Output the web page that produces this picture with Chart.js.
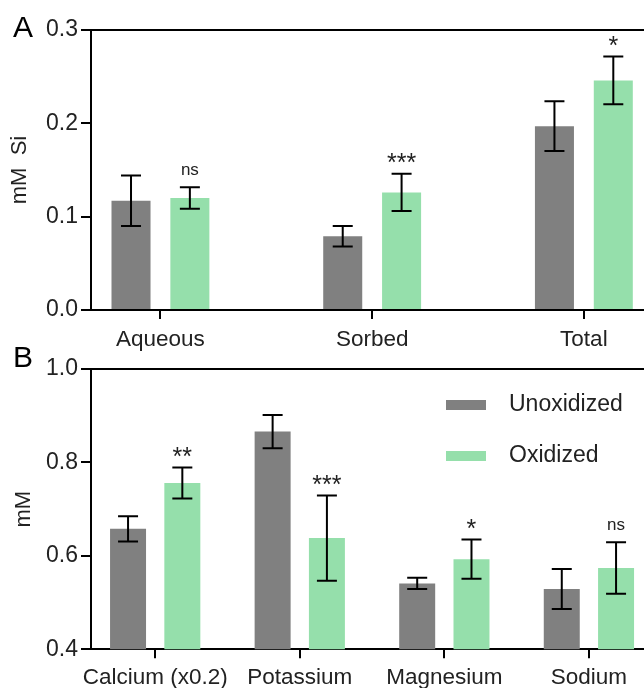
<!DOCTYPE html>
<html>
<head>
<meta charset="utf-8">
<script src="https://cdn.jsdelivr.net/npm/chart.js@4/dist/chart.umd.min.js"></script>
<style>
    html, body { margin: 0; padding: 0; background: #fff; overflow: hidden; }
    body { position: relative; width: 644px; height: 688px; }
    canvas { display: block; position: absolute; left: 0; }
    #grafA { top: 0; }
    #grafB { top: 342px; }
</style>
</head>
<body>
<canvas id="grafA" width="644" height="362"></canvas>
<canvas id="grafB" width="644" height="346"></canvas>
<script>
// Panel A: silicio
const siCategorias = ["Aqueous", "Sorbed", "Total"];
const siUnox = [0.117, 0.079, 0.197];
const siUnoxErr = [0.027, 0.011, 0.0266];
const siOx = [0.120, 0.126, 0.246];
const siOxErr = [0.0116, 0.020, 0.0256];
const siSignif = ["ns", "***", "*"];
const siTicks = [0.0, 0.1, 0.2, 0.3];

// Panel B: cationes
const ionCategorias = ["Calcium (x0.2)", "Potassium", "Magnesium", "Sodium"];
const ionUnox = [0.658, 0.866, 0.541, 0.529];
const ionUnoxErr = [0.027, 0.0355, 0.012, 0.043];
const ionOx = [0.756, 0.638, 0.593, 0.574];
const ionOxErr = [0.033, 0.091, 0.042, 0.055];
const ionSignif = ["**", "***", "*", "ns"];
const ionTicks = [0.4, 0.6, 0.8, 1.0];

const series = ["Unoxidized", "Oxidized"];
const GRIS = "#808080";
const VERDE = "#95dfab";
const FUENTE = "'Liberation Sans', Arial, sans-serif";
const TEXTO = "#222";

Chart.defaults.font.family = FUENTE;
Chart.defaults.color = TEXTO;

const barrasError = {
    id: "barrasError",
    afterDatasetsDraw(chart, args, opts) {
        const { ctx } = chart;
        const y = chart.scales.y;
        chart.data.datasets.forEach((ds, i) => {
            const meta = chart.getDatasetMeta(i);
            meta.data.forEach((bar, j) => {
                const v = ds.data[j].y, e = ds.errores[j];
                const arriba = y.getPixelForValue(v + e);
                const abajo = y.getPixelForValue(v - e);
                ctx.save();
                ctx.strokeStyle = "#000";
                ctx.lineWidth = 2;
                ctx.beginPath();
                ctx.moveTo(bar.x, arriba); ctx.lineTo(bar.x, abajo);
                ctx.moveTo(bar.x - 10, arriba); ctx.lineTo(bar.x + 10, arriba);
                ctx.moveTo(bar.x - 10, abajo); ctx.lineTo(bar.x + 10, abajo);
                ctx.stroke();
                ctx.restore();
                if (ds.signif) {
                    const txt = ds.signif[j];
                    const ast = txt.startsWith("*");
                    ctx.save();
                    ctx.fillStyle = TEXTO;
                    ctx.textAlign = "center";
                    ctx.textBaseline = "alphabetic";
                    ctx.font = (ast ? "25px " : "17px ") + FUENTE;
                    ctx.fillText(txt, bar.x, arriba - (ast ? 3 : 12));
                    ctx.restore();
                }
            });
        });
        // letra del panel
        ctx.save();
        ctx.fillStyle = "#000";
        ctx.font = "30px " + FUENTE;
        ctx.textAlign = "left";
        ctx.textBaseline = "alphabetic";
        ctx.fillText(opts.letra, 13, opts.letraY);
        ctx.restore();
        // leyenda dentro del área
        if (opts.leyenda) {
            const a = chart.chartArea;
            chart.data.datasets.forEach((ds, i) => {
                const yy = a.top + 31 + i * 51;
                ctx.save();
                ctx.fillStyle = ds.backgroundColor;
                ctx.fillRect(446, yy, 40, 10);
                ctx.fillStyle = TEXTO;
                ctx.font = "23px " + FUENTE;
                ctx.textBaseline = "middle";
                ctx.fillText(ds.label, 509, yy + 5);
                ctx.restore();
            });
        }
    },
};

function crearPanel(id, c) {
    const datos = (vals) => vals.map((v, i) => ({ x: i, y: v }));
    return new Chart(document.getElementById(id), {
        type: "bar",
        data: {
            datasets: [
                { label: series[0], data: datos(c.unox), errores: c.unoxErr, backgroundColor: GRIS },
                { label: series[1], data: datos(c.ox), errores: c.oxErr, signif: c.signif, backgroundColor: VERDE },
            ],
        },
        options: {
            responsive: false,
            animation: false,
            layout: { padding: { top: c.arriba, left: 0, right: 0, bottom: 0 } },
            datasets: { bar: { categoryPercentage: c.catPct, barPercentage: c.barPct, borderWidth: 0 } },
            plugins: {
                legend: { display: false },
                tooltip: { enabled: false },
                barrasError: { letra: c.letra, letraY: c.letraY, leyenda: c.leyenda },
            },
            scales: {
                x: {
                    type: "linear",
                    position: "bottom",
                    min: c.xMin, max: c.xMax,
                    offset: false,
                    afterBuildTicks: (s) => { s.ticks = c.categorias.map((_, i) => ({ value: i })); },
                    afterFit: (s) => { s.height = c.altoX; },
                    ticks: {
                        callback: (v) => c.categorias[v] ?? "",
                        font: { size: 22.5 }, color: TEXTO, padding: c.padX, maxRotation: 0, autoSkip: false,
                    },
                    grid: { drawOnChartArea: false, offset: false, color: "#000", lineWidth: 2, tickLength: 9 },
                    border: { display: true, color: "#000", width: 2 },
                },
                arriba: {
                    type: "linear",
                    axis: "x",
                    position: "top",
                    afterFit: (s) => { s.height = 0; },
                    ticks: { display: false },
                    grid: { display: false, drawTicks: false },
                    border: { display: true, color: "#000", width: 2 },
                },
                y: {
                    min: c.yTicks[0], max: c.yTicks[c.yTicks.length - 1],
                    afterBuildTicks: (s) => { s.ticks = c.yTicks.map((v) => ({ value: v })); },
                    afterFit: (s) => { s.width = 91; },
                    ticks: { callback: (v) => Number(v).toFixed(1), font: { size: 23 }, color: TEXTO, padding: 3 },
                    grid: { drawOnChartArea: false, color: "#000", lineWidth: 2, tickLength: 10 },
                    border: { display: true, color: "#000", width: 2 },
                    title: { display: true, text: c.tituloY, font: { size: 22 }, color: TEXTO, padding: { top: c.padTitulo, bottom: 0 } },
                },
            },
        },
        plugins: [barrasError],
    });
}

crearPanel("grafA", {
    categorias: siCategorias, unox: siUnox, unoxErr: siUnoxErr, ox: siOx, oxErr: siOxErr,
    signif: siSignif, yTicks: siTicks, tituloY: "mM  Si",
    xMin: -0.328, xMax: 2.284, catPct: 0.556, barPct: 0.663,
    arriba: 30, altoX: 52, padX: 7, padTitulo: 7,
    letra: "A", letraY: 37, leyenda: false,
});

crearPanel("grafB", {
    categorias: ionCategorias, unox: ionUnox, unoxErr: ionUnoxErr, ox: ionOx, oxErr: ionOxErr,
    signif: ionSignif, yTicks: ionTicks, tituloY: "mM",
    xMin: -0.444, xMax: 3.381, catPct: 0.751, barPct: 0.663,
    arriba: 27, altoX: 38.7, padX: 6, padTitulo: 11,
    letra: "B", letraY: 25, leyenda: true,
});
</script>
</body>
</html>
